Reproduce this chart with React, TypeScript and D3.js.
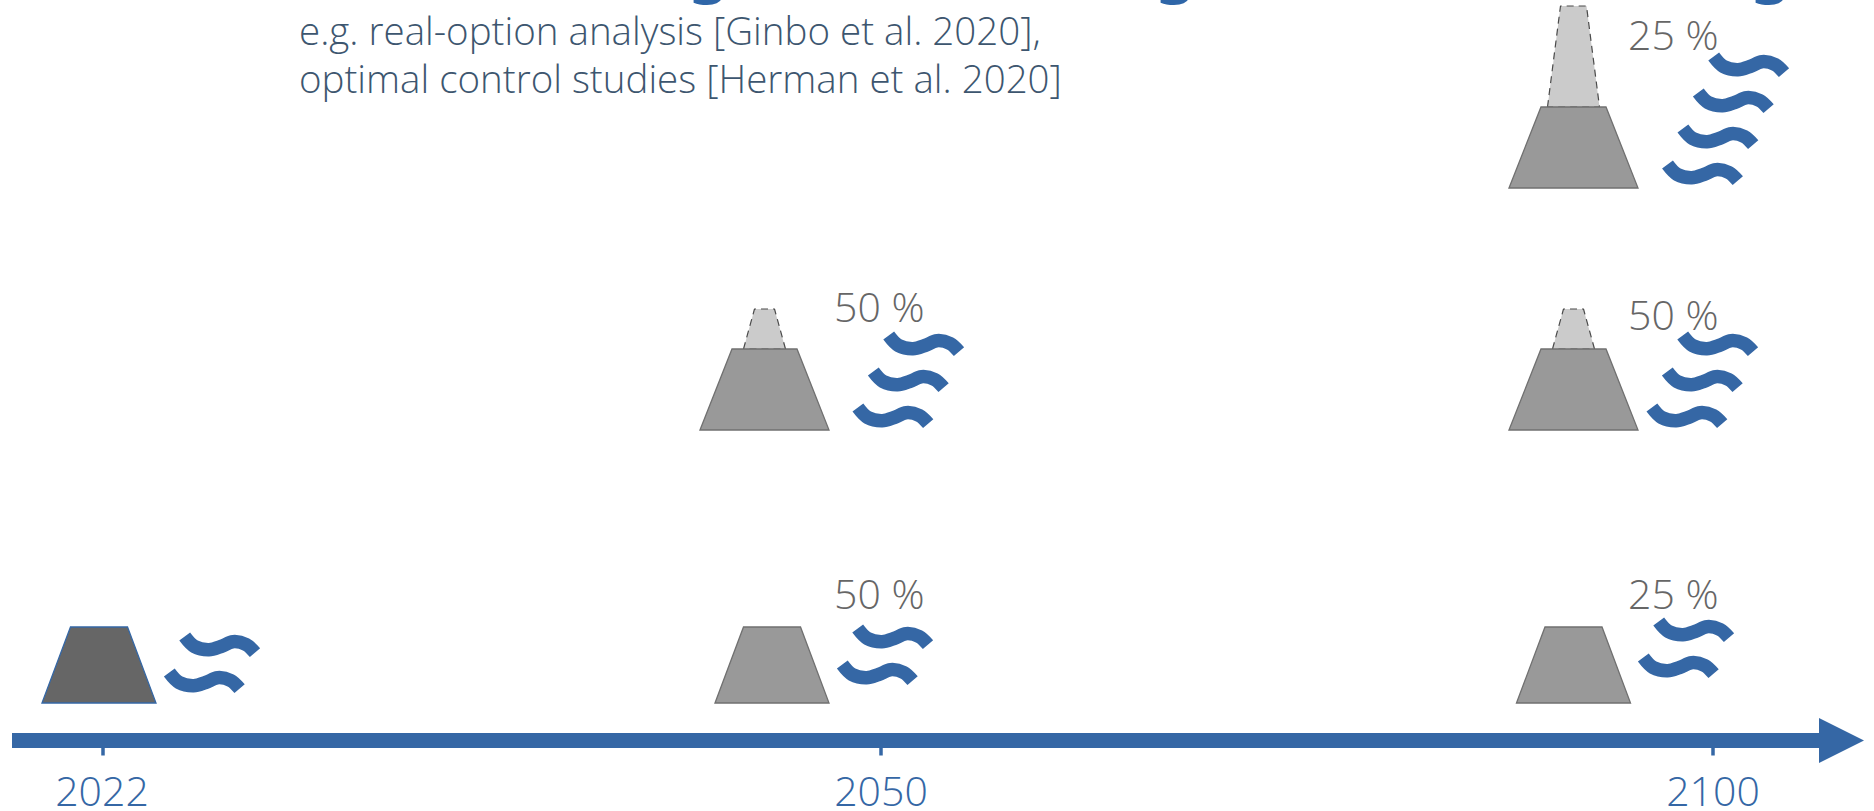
import React from "react";
import * as d3 from "d3";

// Timeline years and the adaptation pathways branching from them
const timelineYears = [2022, 2050, 2100];
const pathwayYears = [2022, 2050, 2050, 2100, 2100, 2100];
const pathwayLevels = [0, 0, 1, 0, 1, 2];
const baseHeights = [76, 76, 81, 76, 81, 81];
const raisedHeights = [0, 0, 40, 0, 40, 101];
const waveCounts = [2, 2, 3, 2, 3, 4];
const probabilityLabels = ["", "50 %", "50 %", "25 %", "50 %", "25 %"];
const noteLines = [
  "e.g. real-option analysis [Ginbo et al. 2020],",
  "optimal control studies [Herman et al. 2020]",
];

const BLUE = "#3567a5";
const FONT = "'Open Sans', sans-serif";

// Piecewise timeline: the axis is schematic, not proportional to elapsed years
const xYear = d3.scaleLinear().domain(timelineYears).range([103, 881, 1713]);
const yGround = d3.scaleLinear().domain([0, 1, 2]).range([703, 430, 188]);

// Drawing offsets for each pathway, relative to its tick and ground line
const dikeOffset = [-4, -109, -116.5, -139.5, -139.5, -139.5];
const waveLeft = [178, 851, 882, 1652, 1676, 1707];
const waveTop = [632, 624, 331, 617, 331, 52];
const labelX = [0, 834, 834, 1628, 1628, 1628];
const labelY = [0, 609, 322, 609, 330, 50];

const closedLine = d3.line<[number, number]>().curve(d3.curveLinearClosed);
const waveLine = d3.line<[number, number]>().curve(d3.curveCatmullRom.alpha(0.5));

const waveTemplate: [number, number][] = [
  [6.7, 4.5],
  [16.5, 14.5],
  [31, 17.7],
  [43, 14.5],
  [55, 9.7],
  [68, 12.5],
  [77, 20.7],
];

function trapezoid(cx: number, y0: number, h: number, halfBottom: number, halfTop: number) {
  return closedLine([
    [cx - halfBottom, y0],
    [cx - halfTop, y0 - h],
    [cx + halfTop, y0 - h],
    [cx + halfBottom, y0],
  ]) as string;
}

export default function App() {
  React.useEffect(() => {
    document.body.style.margin = "0";
    document.body.style.background = "#fff";
  }, []);

  return (
    <svg
      width={1874}
      height={811}
      viewBox="0 0 1874 811"
      style={{ position: "absolute", left: 0, top: 0, display: "block", background: "#fff" }}
    >
      {/* Descenders of the heading that runs off the top edge */}
      {[[688, "g"], [1155, "g"], [1750, "g"]].map(([x, s], i) => (
        <text key={i} x={x as number} y={-11} fontFamily="'Noto Sans', sans-serif" fontWeight={600} fontSize={66} fill="#2f66a8">
          {s as string}
        </text>
      ))}

      {noteLines.map((line, i) => (
        <text key={line} x={299} y={45 + i * 48} fontFamily={FONT} fontWeight={300} fontSize={38.5} fill="#3d566f">
          {line}
        </text>
      ))}

      {pathwayYears.map((year, i) => {
        const cx = xYear(year) + dikeOffset[i];
        const y0 = yGround(pathwayLevels[i]);
        const large = baseHeights[i] > 76;
        const halfBottom = large ? 64.5 : 57;
        const halfTop = large ? 32.5 : 28.5;
        const raised = raisedHeights[i];
        const tall = raised > 50;
        return (
          <g key={i}>
            {raised > 0 && (
              <path
                d={trapezoid(cx, y0 - baseHeights[i], raised, tall ? 26 : 21, tall ? 13 : 10)}
                fill="#cbcbcb"
                stroke="#4a4a4a"
                strokeWidth={1.2}
                strokeDasharray="7 5"
                strokeLinejoin="round"
              />
            )}
            <path
              d={trapezoid(cx, y0, baseHeights[i], halfBottom, halfTop)}
              fill={i === 0 ? "#666666" : "#999999"}
              stroke={i === 0 ? BLUE : "#707070"}
              strokeWidth={1.3}
            />
            {d3.range(waveCounts[i]).map((k) => (
              <path
                key={k}
                d={waveLine(waveTemplate) as string}
                transform={`translate(${waveLeft[i] - k * 15.4},${waveTop[i] + k * 36})`}
                fill="none"
                stroke={BLUE}
                strokeWidth={13.5}
              />
            ))}
            {probabilityLabels[i] && (
              <text x={labelX[i]} y={labelY[i]} fontFamily={FONT} fontWeight={300} fontSize={41} fill="#666666">
                {probabilityLabels[i]}
              </text>
            )}
          </g>
        );
      })}

      {/* Time axis with arrowhead */}
      <rect x={12} y={733} width={1810} height={15} fill={BLUE} />
      <path d={closedLine([[1819, 718], [1864, 740.5], [1819, 763]]) as string} fill={BLUE} />
      {timelineYears.map((year) => (
        <g key={year}>
          <line x1={xYear(year)} x2={xYear(year)} y1={748} y2={755.5} stroke={BLUE} strokeWidth={3.5} />
          <text
            x={xYear(year) + (year === 2100 ? 0 : year === 2022 ? -1 : 0)}
            y={806}
            textAnchor="middle"
            fontFamily={FONT}
            fontWeight={300}
            fontSize={41}
            fill={BLUE}
          >
            {year}
          </text>
        </g>
      ))}
    </svg>
  );
}
